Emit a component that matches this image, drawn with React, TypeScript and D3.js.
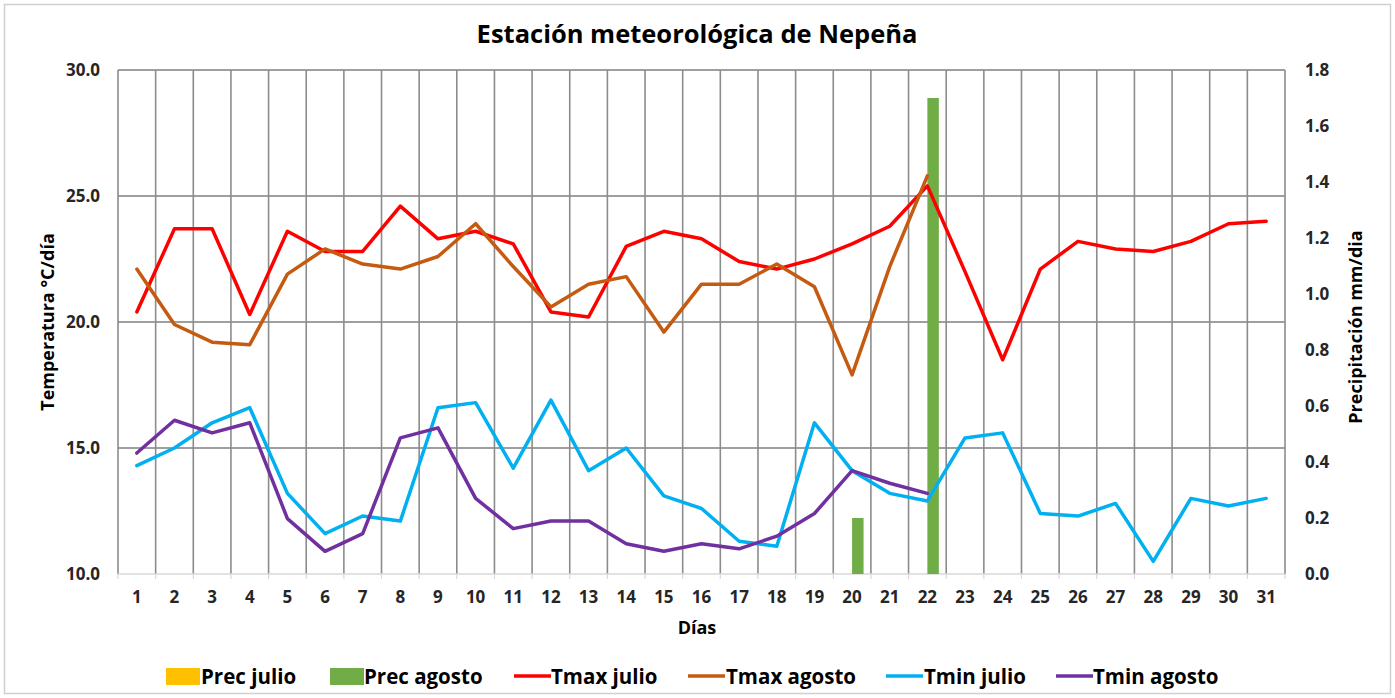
import React from "react";
import * as d3 from "d3";

const days = d3.range(1, 32).map(String);
const tmaxJulio = [20.4, 23.7, 23.7, 20.3, 23.6, 22.8, 22.8, 24.6, 23.3, 23.6, 23.1, 20.4, 20.2, 23.0, 23.6, 23.3, 22.4, 22.1, 22.5, 23.1, 23.8, 25.4, 22.0, 18.5, 22.1, 23.2, 22.9, 22.8, 23.2, 23.9, 24.0];
const tmaxAgosto = [22.1, 19.9, 19.2, 19.1, 21.9, 22.9, 22.3, 22.1, 22.6, 23.9, 22.2, 20.6, 21.5, 21.8, 19.6, 21.5, 21.5, 22.3, 21.4, 17.9, 22.2, 25.8];
const tminJulio = [14.3, 15.0, 16.0, 16.6, 13.2, 11.6, 12.3, 12.1, 16.6, 16.8, 14.2, 16.9, 14.1, 15.0, 13.1, 12.6, 11.3, 11.1, 16.0, 14.1, 13.2, 12.9, 15.4, 15.6, 12.4, 12.3, 12.8, 10.5, 13.0, 12.7, 13.0];
const tminAgosto = [14.8, 16.1, 15.6, 16.0, 12.2, 10.9, 11.6, 15.4, 15.8, 13.0, 11.8, 12.1, 12.1, 11.2, 10.9, 11.2, 11.0, 11.5, 12.4, 14.1, 13.6, 13.2];
const precJulio = new Array(31).fill(0);
const precAgosto = [0, 0, 0, 0, 0, 0, 0, 0, 0, 0, 0, 0, 0, 0, 0, 0, 0, 0, 0, 0.2, 0, 1.7];
const tempTicks = [10, 15, 20, 25, 30];
const precTicks = [0, 0.2, 0.4, 0.6, 0.8, 1.0, 1.2, 1.4, 1.6, 1.8];

const W = 1395, H = 698;
const L = 118, R = 1285, T = 70, B = 574;
const FONT = "'Liberation Sans Narrow', 'Open Sans', sans-serif";

export default function App() {
  const x0 = d3.scaleBand<string>().domain(days).range([L, R]).padding(0);
  const bw = x0.bandwidth();
  const x1 = d3.scaleBand<string>().domain(["julio", "agosto"]).range([0, bw]).paddingInner(0).paddingOuter(0.64);
  const yT = d3.scaleLinear().domain([10, 30]).range([B, T]);
  const yP = d3.scaleLinear().domain([0, 1.8]).range([B, T]);
  const cx = (i: number) => (x0(days[i]) as number) + bw / 2;
  const line = d3.line<number>().x((_, i) => cx(i)).y((d) => yT(d));

  const series = [
    { name: "Tmax julio", data: tmaxJulio, color: "#FF0000" },
    { name: "Tmax agosto", data: tmaxAgosto, color: "#C55A11" },
    { name: "Tmin julio", data: tminJulio, color: "#00B0F0" },
    { name: "Tmin agosto", data: tminAgosto, color: "#7030A0" },
  ];

  const legend = [
    { name: "Prec julio", color: "#FFC000", type: "rect", x: 166, tx: 201 },
    { name: "Prec agosto", color: "#70AD47", type: "rect", x: 330, tx: 364 },
    { name: "Tmax julio", color: "#FF0000", type: "line", x: 514, tx: 551 },
    { name: "Tmax agosto", color: "#C55A11", type: "line", x: 688, tx: 726 },
    { name: "Tmin julio", color: "#00B0F0", type: "line", x: 886, tx: 924 },
    { name: "Tmin agosto", color: "#7030A0", type: "line", x: 1056, tx: 1093 },
  ];

  return (
    <svg width={W} height={H} style={{ position: "absolute", left: 0, top: 0, background: "#fff" }} fontFamily={FONT}>
      <rect x={4.5} y={4.5} width={W - 9} height={H - 9} fill="#fff" stroke="#d0d0d0" strokeWidth={1.5} />
      <text x={697} y={43} textAnchor="middle" fontSize={25.5} fontWeight="bold" fill="#000">Estación meteorológica de Nepeña</text>

      {tempTicks.filter((t) => t > 10).map((t) => (
        <line key={"h" + t} x1={L} x2={R} y1={yT(t)} y2={yT(t)} stroke="#7f7f7f" strokeWidth={1.5} />
      ))}
      {days.map((d) => (
        <line key={"v" + d} x1={x0(d) as number} x2={x0(d) as number} y1={T} y2={B} stroke="#8c8c8c" strokeWidth={1.6} />
      ))}
      <line x1={R} x2={R} y1={T} y2={B} stroke="#8c8c8c" strokeWidth={1.6} />
      <line x1={L} x2={R} y1={B} y2={B} stroke="#d9d9d9" strokeWidth={1.5} />
      {days.map((d) => (
        <line key={"t" + d} x1={x0(d) as number} x2={x0(d) as number} y1={B} y2={B + 5} stroke="#d9d9d9" strokeWidth={1.2} />
      ))}
      <line x1={R} x2={R} y1={B} y2={B + 5} stroke="#d9d9d9" strokeWidth={1.2} />

      {precJulio.map((v, i) => v > 0 ? (
        <rect key={"pj" + i} x={(x0(days[i]) as number) + (x1("julio") as number)} width={x1.bandwidth()} y={yP(v)} height={yP(0) - yP(v)} fill="#FFC000" />
      ) : null)}
      {precAgosto.map((v, i) => v > 0 ? (
        <rect key={"pa" + i} x={(x0(days[i]) as number) + (x1("agosto") as number)} width={x1.bandwidth()} y={yP(v)} height={yP(0) - yP(v)} fill="#70AD47" />
      ) : null)}

      {series.map((s) => (
        <path key={s.name} d={line(s.data) as string} fill="none" stroke={s.color} strokeWidth={3.5} strokeLinejoin="round" strokeLinecap="round" />
      ))}

      {tempTicks.map((t) => (
        <text key={"lt" + t} x={100} y={yT(t) + 6} textAnchor="end" fontSize={17} fontWeight="bold" fill="#262626">{t.toFixed(1)}</text>
      ))}
      {precTicks.map((t) => (
        <text key={"rt" + t} x={1305} y={yP(t) + 6} textAnchor="start" fontSize={17} fontWeight="bold" fill="#262626">{t.toFixed(1)}</text>
      ))}
      {days.map((d) => (
        <text key={"xl" + d} x={(x0(d) as number) + bw / 2} y={603} textAnchor="middle" fontSize={17} fontWeight="bold" fill="#262626">{d}</text>
      ))}
      <text x={697} y={634} textAnchor="middle" fontSize={18} fontWeight="bold" fill="#000">Días</text>
      <text transform={`translate(54,${(T + B) / 2}) rotate(-90)`} textAnchor="middle" fontSize={18} fontWeight="bold" fill="#000">Temperatura °C/día</text>
      <text transform={`translate(1362,${(T + B) / 2 + 5}) rotate(-90)`} textAnchor="middle" fontSize={18} fontWeight="bold" fill="#000">Precipitación mm/dia</text>

      {legend.map((l) => (
        <g key={l.name}>
          {l.type === "rect" ? (
            <rect x={l.x} y={668} width={34} height={17} fill={l.color} />
          ) : (
            <line x1={l.x} x2={l.x + 37} y1={676} y2={676} stroke={l.color} strokeWidth={3.5} />
          )}
          <text x={l.tx} y={684} fontSize={20.5} fontWeight="bold" fill="#000">{l.name}</text>
        </g>
      ))}
    </svg>
  );
}
